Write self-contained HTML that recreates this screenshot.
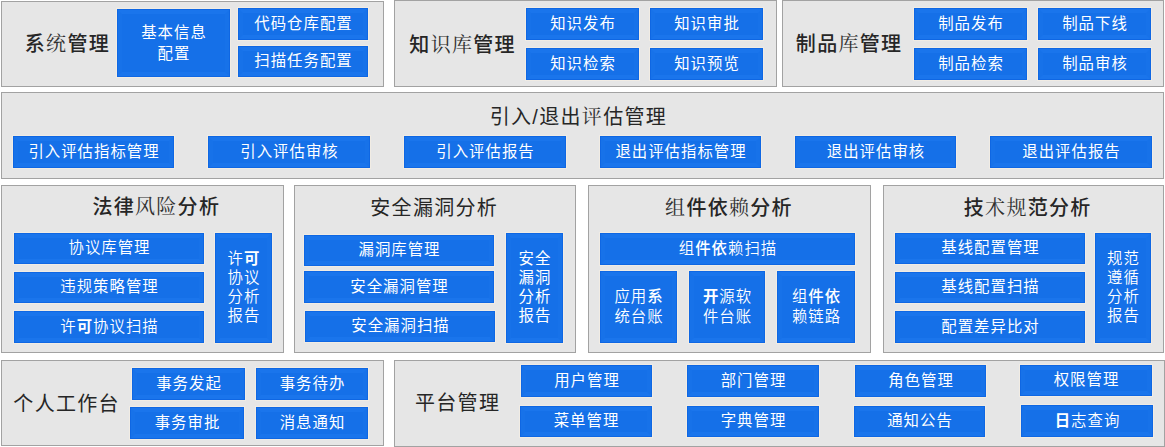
<!DOCTYPE html>
<html lang="zh-CN">
<head>
<meta charset="utf-8">
<title>功能架构</title>
<style>
html,body{margin:0;padding:0;background:#fff;}
body{width:1165px;height:447px;position:relative;overflow:hidden;font-family:"Liberation Sans","Noto Sans CJK SC",sans-serif;}
.p{position:absolute;box-sizing:border-box;background:#e6e6e6;border:1px solid #a2a2a2;}
.b{position:absolute;box-sizing:border-box;background:#1570e8;border:1px solid #0f67e3;color:#fff;font-size:15.4px;letter-spacing:1px;line-height:21px;text-align:center;display:flex;align-items:center;justify-content:center;white-space:nowrap;box-shadow:0 0 0 1px rgba(250,240,225,.55);}
.b:before{content:"";position:absolute;left:0;top:0;right:0;bottom:0;border-style:solid;border-width:4px;border-color:#1a75ec #1772e9 #1a75ec #1772e9;}
.b span{position:relative;display:block;padding-left:1px;top:-1px;}
b,i,em{font-style:normal;}
.t b{font-weight:500;}
.t i{font-family:"Liberation Serif","Noto Serif CJK SC",serif;font-weight:400;color:#303030;}
.b b{font-weight:500;}
.b em{font-weight:700;}
.b i{font-weight:350;}
.t{position:absolute;color:#262626;font-size:20px;letter-spacing:1.3px;line-height:24px;height:24px;text-align:center;white-space:nowrap;font-weight:400;}
</style>
</head>
<body>
<div class="p" style="left:1px;top:1px;width:383px;height:86px"></div>
<div class="p" style="left:394px;top:0px;width:383px;height:87px"></div>
<div class="p" style="left:782px;top:0px;width:382px;height:87px"></div>
<div class="p" style="left:1px;top:92px;width:1163px;height:87px"></div>
<div class="p" style="left:1px;top:185px;width:283px;height:168px"></div>
<div class="p" style="left:294px;top:185px;width:282px;height:168px"></div>
<div class="p" style="left:588px;top:185px;width:283px;height:168px"></div>
<div class="p" style="left:883px;top:185px;width:281px;height:168px"></div>
<div class="p" style="left:1px;top:360px;width:383px;height:86px"></div>
<div class="p" style="left:394px;top:360px;width:771px;height:87px"></div>
<div class="b" style="left:117px;top:9px;width:113px;height:68px"><span style="line-height:21px;top:0px">基本信息<br>配置</span></div>
<div class="b" style="left:238px;top:8px;width:130px;height:32px"><span>代码仓库配置</span></div>
<div class="b" style="left:238px;top:46px;width:130px;height:31px"><span>扫描任务配置</span></div>
<div class="b" style="left:526px;top:8px;width:113px;height:32px"><span>知识发布</span></div>
<div class="b" style="left:650px;top:8px;width:113px;height:32px"><span>知识审批</span></div>
<div class="b" style="left:526px;top:48px;width:113px;height:32px"><span>知识检索</span></div>
<div class="b" style="left:650px;top:48px;width:113px;height:32px"><span>知识预览</span></div>
<div class="b" style="left:914px;top:8px;width:113px;height:32px"><span>制品发布</span></div>
<div class="b" style="left:1038px;top:8px;width:113px;height:32px"><span>制品下线</span></div>
<div class="b" style="left:914px;top:48px;width:113px;height:32px"><span>制品检索</span></div>
<div class="b" style="left:1038px;top:48px;width:113px;height:32px"><span>制品审核</span></div>
<div class="b" style="left:13px;top:136px;width:161px;height:32px"><span>引入评估指标管理</span></div>
<div class="b" style="left:208px;top:136px;width:162px;height:32px"><span>引入评估审核</span></div>
<div class="b" style="left:404px;top:136px;width:162px;height:32px"><span>引入评估报告</span></div>
<div class="b" style="left:600px;top:136px;width:161px;height:32px"><span>退出评估指标管理</span></div>
<div class="b" style="left:795px;top:136px;width:161px;height:32px"><span>退出评估审核</span></div>
<div class="b" style="left:990px;top:136px;width:162px;height:32px"><span>退出评估报告</span></div>
<div class="b" style="left:14px;top:233px;width:190px;height:31px"><span><i>协议库</i>管理</span></div>
<div class="b" style="left:14px;top:272px;width:190px;height:31px"><span><i>违规</i>策略管理</span></div>
<div class="b" style="left:14px;top:311px;width:190px;height:32px"><span><i>许</i><em>可</em><i>协议扫描</i></span></div>
<div class="b" style="left:215px;top:233px;width:57px;height:110px"><span style="line-height:19px"><i>许</i><em>可</em><br><i>协议</i><br><i>分析</i><br><i>报告</i></span></div>
<div class="b" style="left:304px;top:235px;width:190px;height:31px"><span>漏洞<i>库</i>管理</span></div>
<div class="b" style="left:304px;top:271px;width:190px;height:32px"><span>安全漏洞管理</span></div>
<div class="b" style="left:305px;top:311px;width:190px;height:31px"><span>安全漏洞扫描</span></div>
<div class="b" style="left:506px;top:233px;width:57px;height:110px"><span style="line-height:19px">安全<br>漏洞<br>分析<br>报告</span></div>
<div class="b" style="left:600px;top:233px;width:255px;height:32px"><span><i>组</i><b>件依</b><i>赖扫描</i></span></div>
<div class="b" style="left:600px;top:271px;width:77px;height:72px"><span style="line-height:20px;top:0.4px"><i>应用</i><b>系</b><br><i>统台账</i></span></div>
<div class="b" style="left:689px;top:271px;width:76px;height:72px"><span style="line-height:20px;top:0.4px"><em>开</em><i>源软</i><br><i>件台账</i></span></div>
<div class="b" style="left:777px;top:271px;width:78px;height:72px"><span style="line-height:20px;top:0.4px"><i>组</i><b>件依</b><br><i>赖链路</i></span></div>
<div class="b" style="left:895px;top:233px;width:190px;height:31px"><span>基线配置管理</span></div>
<div class="b" style="left:895px;top:272px;width:190px;height:31px"><span>基线配置扫描</span></div>
<div class="b" style="left:895px;top:311px;width:190px;height:32px"><span>配置差异比对</span></div>
<div class="b" style="left:1095px;top:233px;width:56px;height:110px"><span style="line-height:19px"><i>规范</i><br><i>遵循</i><br><i>分析</i><br><i>报告</i></span></div>
<div class="b" style="left:132px;top:368px;width:113px;height:32px"><span>事务发起</span></div>
<div class="b" style="left:256px;top:368px;width:112px;height:32px"><span>事务待办</span></div>
<div class="b" style="left:130px;top:407px;width:114px;height:32px"><span>事务审批</span></div>
<div class="b" style="left:256px;top:407px;width:112px;height:32px"><span>消息通知</span></div>
<div class="b" style="left:521px;top:365px;width:131px;height:32px"><span>用户管理</span></div>
<div class="b" style="left:687px;top:365px;width:132px;height:32px"><span>部门管理</span></div>
<div class="b" style="left:855px;top:365px;width:131px;height:32px"><span>角色管理</span></div>
<div class="b" style="left:1020px;top:365px;width:132px;height:31px"><span>权限管理</span></div>
<div class="b" style="left:520px;top:406px;width:132px;height:31px"><span>菜单管理</span></div>
<div class="b" style="left:687px;top:406px;width:132px;height:31px"><span>字典管理</span></div>
<div class="b" style="left:854px;top:406px;width:131px;height:31px"><span>通知公告</span></div>
<div class="b" style="left:1021px;top:405px;width:132px;height:32px"><span><em>日</em><i>志查询</i></span></div>
<div class="t" style="left:-32.6px;top:32.0px;width:200px"><b>系</b><i>统</i><b>管理</b></div>
<div class="t" style="left:362.6px;top:32.5px;width:200px"><b>知</b><i>识库</i><b>管理</b></div>
<div class="t" style="left:749.1px;top:31.5px;width:200px"><b>制品</b><i>库</i><b>管理</b></div>
<div class="t" style="left:478.4px;top:104.5px;width:200px">引入/退出<i>评</i>估管理</div>
<div class="t" style="left:56.3px;top:194.5px;width:200px"><b>法律</b><i>风险</i><b>分析</b></div>
<div class="t" style="left:334.2px;top:195.5px;width:200px">安全漏洞分析</div>
<div class="t" style="left:629.0px;top:195.5px;width:200px"><i>组</i><b>件依</b><i>赖</i><b>分析</b></div>
<div class="t" style="left:927.7px;top:195.5px;width:200px"><b>技</b><i>术规</i><b>范分析</b></div>
<div class="t" style="left:-33.4px;top:392.0px;width:200px">个人工作台</div>
<div class="t" style="left:357.6px;top:391.0px;width:200px">平台管理</div>
</body>
</html>
